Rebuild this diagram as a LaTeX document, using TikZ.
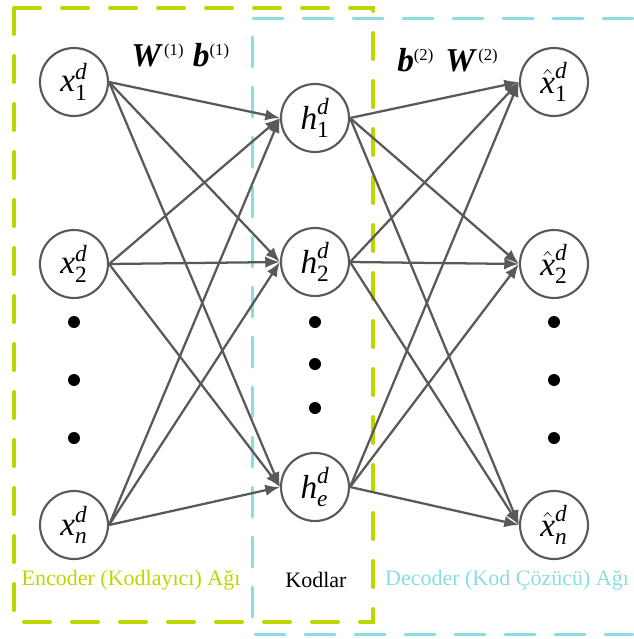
\documentclass[tikz,border=0pt]{standalone}
\usepackage{amsmath}
\usepackage{fontspec}
\setmainfont{Liberation Serif}
\usetikzlibrary{arrows.meta}
\definecolor{lgreen}{HTML}{BDD600}
\definecolor{lcyan}{HTML}{8ADDE1}
\definecolor{edgec}{HTML}{595959}
\newcommand{\supsc}[1]{\raisebox{8pt}{\fontsize{12.5}{12.5}\selectfont(#1)}}
\begin{document}
\begin{tikzpicture}[x=0.75pt,y=-0.75pt,
  neuron/.style={circle,draw=edgec,line width=1.6pt,minimum size=51pt,inner sep=0pt,font=\fontsize{25}{25}\selectfont},
  conn/.style={draw=edgec,line width=1.7pt,-{Latex[length=11pt,width=8.5pt]}},
  bigdot/.style={circle,fill=black,minimum size=9pt,inner sep=0pt},
  greenbox/.style={draw=lgreen,line width=3pt,line cap=round,dash pattern=on 19.5pt off 16.5pt},
  cyanbox/.style={draw=lcyan,line width=2.25pt,line cap=round,dash pattern=on 22.5pt off 15pt},
  wlabel/.style={font=\fontsize{25}{25}\selectfont,inner sep=0pt,anchor=base west},
  blabel/.style={font=\fontsize{16.5}{16.5}\selectfont}]
\useasboundingbox (0,0) rectangle (633,639);
% boxes
\draw[greenbox] (14,8) rectangle (373,622);
\draw[cyanbox] (633,18) -- (252,18) -- (252,634) -- (633,634);
% nodes
\node[neuron] (x1) at (74,82) {$\textit{x}^{\textit{d}}_{\text{1}}$};
\node[neuron] (x2) at (74,264) {$\textit{x}^{\textit{d}}_{\text{2}}$};
\node[neuron] (xn) at (74,525) {$\textit{x}^{\textit{d}}_{\textit{n}}$};
\node[neuron] (h1) at (315,118) {$\textit{h}^{\textit{d}}_{\text{1}}$};
\node[neuron] (h2) at (315,262) {$\textit{h}^{\textit{d}}_{\text{2}}$};
\node[neuron] (he) at (315,487) {$\textit{h}^{\textit{d}}_{\textit{e}}$};
\node[neuron] (y1) at (554,82) {$\hat{\textit{x}}^{\textit{d}}_{\text{1}}$};
\node[neuron] (y2) at (554,264) {$\hat{\textit{x}}^{\textit{d}}_{\text{2}}$};
\node[neuron] (yn) at (554,525) {$\hat{\textit{x}}^{\textit{d}}_{\textit{n}}$};
% dots
\node[bigdot] (dl1) at (74,322) {};
\node[bigdot] (dl2) at (74,380) {};
\node[bigdot] (dl3) at (74,438) {};
\node[bigdot] (dm1) at (315,322) {};
\node[bigdot] (dm2) at (315,364) {};
\node[bigdot] (dm3) at (315,408) {};
\node[bigdot] (dr1) at (554,322) {};
\node[bigdot] (dr2) at (554,380) {};
\node[bigdot] (dr3) at (554,438) {};
% connectors
\foreach \s in {x1,x2,xn}{
  \foreach \t in {h1,h2,he}{
    \draw[conn] (\s.east) -- (\t.west);
  }
}
\foreach \s in {h1,h2,he}{
  \foreach \t in {y1,y2,yn}{
    \draw[conn] (\s.east) -- (\t.west);
  }
}
% labels
\node[wlabel] (w1) at (131,66) {\textbf{\textit{W}}\hspace{1pt}\supsc{1}\hspace{7pt}\textbf{\textit{b}}\supsc{1}};
\node[wlabel] (w2) at (397,71) {\textbf{\textit{b}}\supsc{2}\hspace{9pt}\textbf{\textit{W}}\hspace{1pt}\supsc{2}};
\node[blabel,text=lgreen] (enc) at (131,580) {Encoder (Kodlayıcı) Ağı};
\node[blabel] (kod) at (316,580) {Kodlar};
\node[blabel,text=lcyan] (dec) at (507,580) {Decoder (Kod Çözücü) Ağı};
\end{tikzpicture}
\end{document}
